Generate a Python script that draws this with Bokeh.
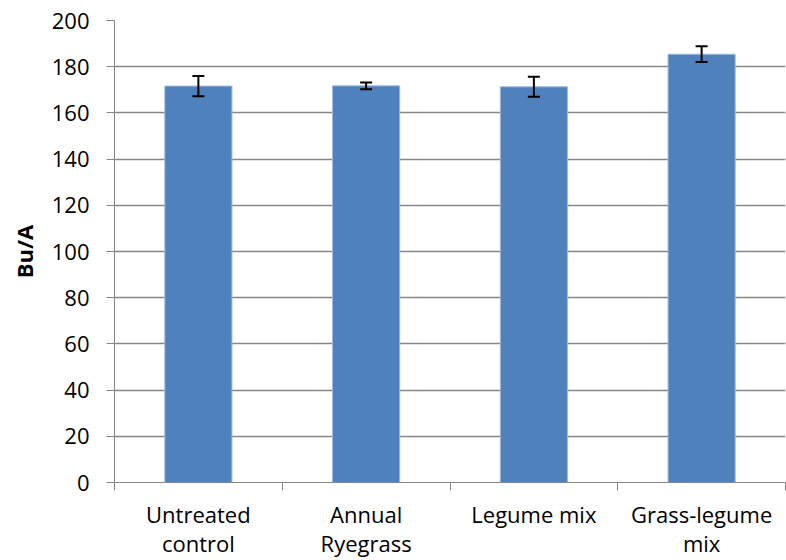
from bokeh.plotting import figure
from bokeh.models import ColumnDataSource, Whisker, FixedTicker, Range1d, TeeHead
from bokeh.embed import file_html
from bokeh.resources import INLINE

categories = ["Untreated\ncontrol", "Annual\nRyegrass", "Legume mix", "Grass-legume\nmix"]
yields = [171.6, 171.7, 171.3, 185.4]
errors = [4.4, 1.5, 4.3, 3.4]
y_ticks = [0, 20, 40, 60, 80, 100, 120, 140, 160, 180, 200]

xs = [i + 0.5 for i in range(len(categories))]
bounds = [float(i) for i in range(len(categories) + 1)]
src = ColumnDataSource(dict(
    x=xs, y=yields,
    lower=[v - e for v, e in zip(yields, errors)],
    upper=[v + e for v, e in zip(yields, errors)],
))

FONT = "Open Sans"
GREY = "#868686"

p = figure(width=786, height=560, output_backend="svg", toolbar_location=None,
           x_range=Range1d(0, len(categories)), y_range=Range1d(0, 200),
           min_border_left=114, min_border_right=1, min_border_top=20, min_border_bottom=78)
p.outline_line_color = None
p.background_fill_color = "white"
p.border_fill_color = "white"

p.vbar(x="x", top="y", width=0.4, source=src, fill_color="#4F81BD", line_color="#9DB9DD", line_width=1)

w = Whisker(base="x", lower="lower", upper="upper", source=src, line_color="black", line_width=2,
            level="annotation",
            upper_head=TeeHead(size=12, line_width=2, line_color="black"),
            lower_head=TeeHead(size=12, line_width=2, line_color="black"))
p.add_layout(w)

# x axis
xa = p.xaxis[0]
xa.ticker = FixedTicker(ticks=xs, minor_ticks=bounds)
xa.major_label_overrides = {x: c for x, c in zip(xs, categories)}
xa.major_tick_out = 0
xa.major_tick_in = 0
xa.minor_tick_out = 8
xa.minor_tick_in = 0
xa.minor_tick_line_color = GREY
xa.axis_line_color = GREY
xa.major_label_standoff = 8
xa.major_label_text_line_height = 0.97
xa.major_label_text_font = FONT
xa.major_label_text_font_size = "22px"
xa.major_label_text_color = "black"

# y axis
ya = p.yaxis[0]
ya.ticker = FixedTicker(ticks=y_ticks, minor_ticks=[])
ya.major_tick_out = 8
ya.major_tick_in = 0
ya.major_tick_line_color = GREY
ya.axis_line_color = GREY
ya.major_label_standoff = 17
ya.major_label_text_font = FONT
ya.major_label_text_font_size = "22px"
ya.major_label_text_color = "black"
ya.axis_label = "Bu/A"
ya.axis_label_text_font = FONT
ya.axis_label_text_font_size = "22px"
ya.axis_label_text_font_style = "bold"
ya.axis_label_text_color = "black"
ya.axis_label_standoff = 10

p.xgrid.grid_line_color = None
p.ygrid.grid_line_color = GREY
p.ygrid.grid_line_width = 1.5

open("out.html", "w").write(file_html(p, INLINE))
